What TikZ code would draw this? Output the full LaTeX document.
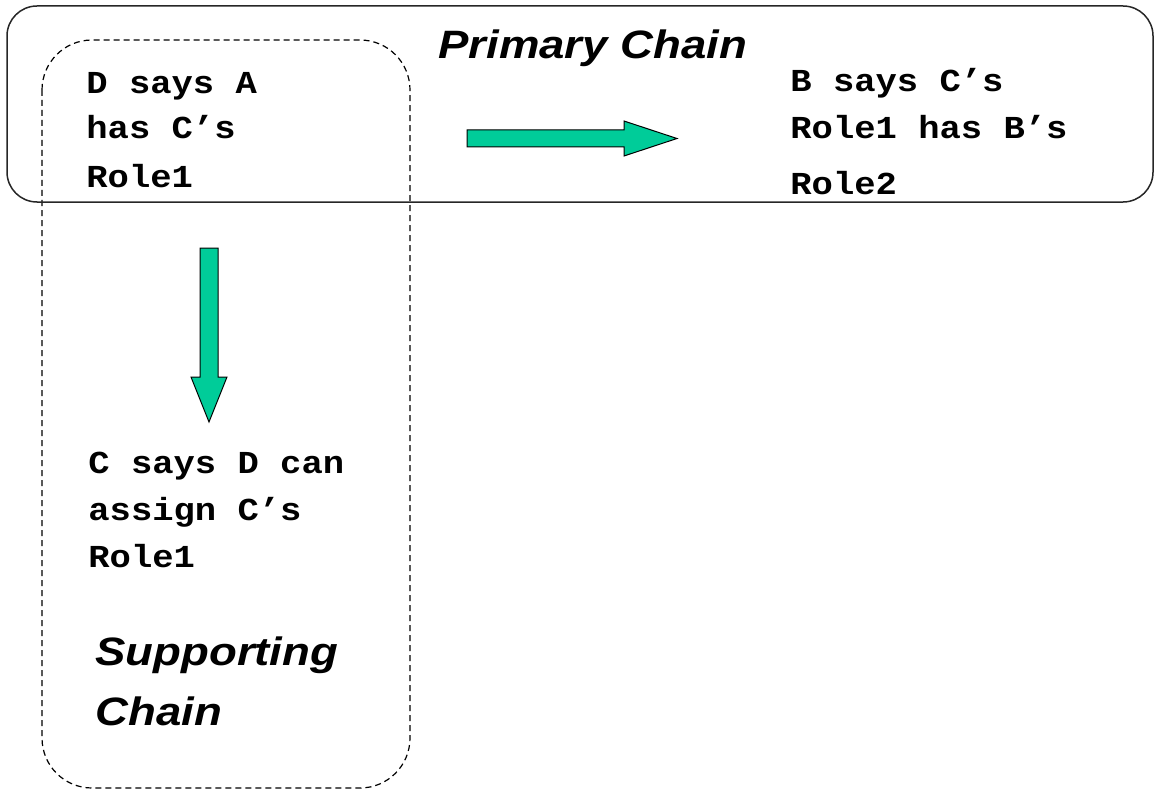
\documentclass[tikz,border=0pt]{standalone}
\usepackage{fontspec}
\newfontfamily\monof[FakeStretch=1.11]{Liberation Mono}
\newfontfamily\titlef[FakeStretch=1.15]{Liberation Sans}
\usetikzlibrary{calc}
\definecolor{arrowgreen}{HTML}{00CC99}
\tikzset{
  monotext/.style={anchor=base west, inner sep=0pt, font=\monof\bfseries\fontsize{16}{19}\selectfont},
  titletext/.style={anchor=base west, inner sep=0pt, font=\titlef\bfseries\itshape\fontsize{19.8}{24}\selectfont},
  chainbox/.style={draw=black!85, line width=0.75pt, rounded corners=15pt},
  supportbox/.style={draw=black, line width=0.6pt, dash pattern=on 3pt off 2pt, rounded corners=25pt},
  blockarrow/.style={fill=arrowgreen, draw=black, line width=0.5pt, line join=miter}
}
\begin{document}
\begin{tikzpicture}[x=0.5pt, y=-0.5pt]
\useasboundingbox (0,0) rectangle (1154,791);
% boxes
\draw[supportbox] (42,40) rectangle (410,788);
\draw[chainbox] (7,6) rectangle (1153,202);
% titles
\node[titletext] (primary) at (438,59) {Primary Chain};
\node[titletext] (supp1) at (95,665) {Supporting};
\node[titletext] (supp2) at (95,725) {Chain};
% texts
\node[monotext] (d1) at (86,94) {D says A};
\node[monotext] (d2) at (86,139) {has C’s};
\node[monotext] (d3) at (86,187) {Role1};
\node[monotext] (b1) at (790,92) {B says C’s};
\node[monotext] (b2) at (790,139) {Role1 has B’s};
\node[monotext] (b3) at (790,195) {Role2};
\node[monotext] (c1) at (88,473) {C says D can};
\node[monotext] (c2) at (88,520) {assign C’s};
\node[monotext] (c3) at (88,567) {Role1};
% arrows
\coordinate (ha) at (467,138.5);
\coordinate (hb) at (677,138.5);
\coordinate (va) at (209,248);
\coordinate (vb) at (209,422);
\path[blockarrow] (ha) ++(0,-8.5) -- ++(157,0) -- ++(0,-9) -- (hb) -- ++(-53,17.5) -- ++(0,-9) -- ++(-157,0) -- cycle;
\path[blockarrow] (va) ++(-9,0) -- ++(0,129) -- ++(-9,0) -- (vb) -- ++(18,-45) -- ++(-9,0) -- ++(0,-129) -- cycle;
\end{tikzpicture}
\end{document}
